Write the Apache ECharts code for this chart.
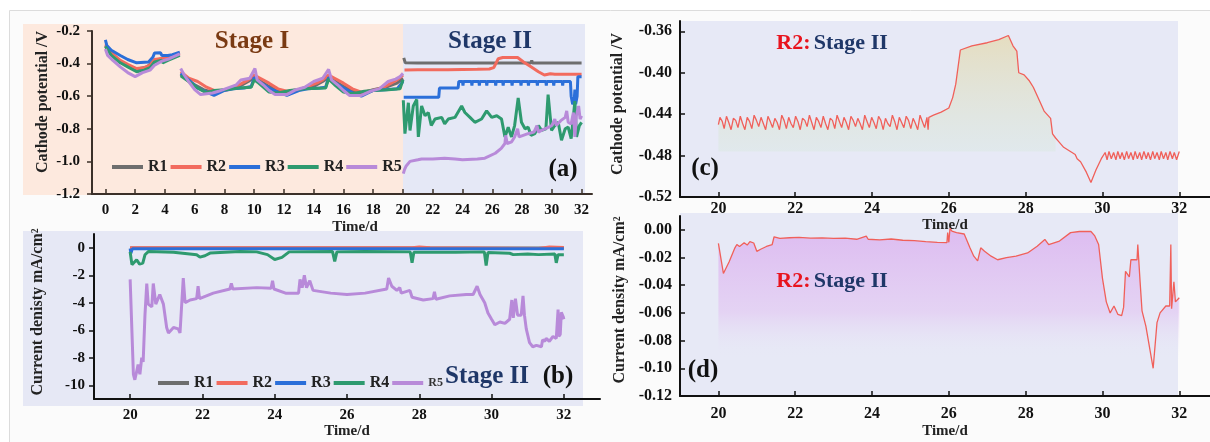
<!DOCTYPE html>
<html>
<head>
<meta charset="utf-8">
<script src="https://cdn.jsdelivr.net/npm/echarts@6/dist/echarts.min.js"></script>
<style>
html,body{margin:0;padding:0;background:#fff;}
#chart{width:1210px;height:442px;}
</style>
</head>
<body>
<div id="chart"></div>
<script>
var FONT = 'Liberation Serif';
var names = ['R1', 'R2', 'R3', 'R4', 'R5'];
var colors = ['#6e6e6e', '#f26b5e', '#2b6fd9', '#2e9a6f', '#b88ad9'];

// tick labels
var dayTicksA = [0, 2, 4, 6, 8, 10, 12, 14, 16, 18, 20, 22, 24, 26, 28, 30, 32];
var dayTicksB = [20, 22, 24, 26, 28, 30, 32];
var potTicksA = [-1.2, -1.0, -0.8, -0.6, -0.4, -0.2];
var curTicksB = [-10, -8, -6, -4, -2, 0];
var potTicksC = [-0.52, -0.48, -0.44, -0.40, -0.36];
var curTicksD = [-0.12, -0.10, -0.08, -0.06, -0.04, -0.02, 0];

// (a) cathode potential, stage I + stage II   [day, V]
var aR1 = [[0,-0.29],[0.4,-0.34],[1,-0.39],[1.6,-0.42],[2.1,-0.435],[2.8,-0.42],[3.3,-0.38],[4,-0.365],[5,-0.34],[5.04,null],
  [5.06,-0.465],[5.5,-0.5],[6,-0.53],[6.6,-0.56],[7.2,-0.575],[8,-0.56],[9,-0.54],[9.6,-0.51],[10,-0.485],[10.3,-0.5],[11,-0.54],[11.6,-0.57],[12.2,-0.58],[13,-0.56],[14,-0.54],[14.6,-0.51],[15,-0.485],[15.3,-0.5],[16,-0.54],[16.6,-0.57],[17.2,-0.58],[18,-0.56],[19,-0.54],[19.6,-0.52],[20,-0.49],[20.02,null],
  [20.05,-0.365],[20.15,-0.395],[21,-0.397],[21.05,-0.385],[21.1,-0.397],[22,-0.396],[22.05,-0.386],[22.1,-0.396],[23,-0.397],[23.05,-0.385],[23.1,-0.397],[24,-0.396],[24.05,-0.386],[24.1,-0.396],[25,-0.397],[25.05,-0.385],[25.1,-0.397],[26,-0.396],[27,-0.397],[27.05,-0.386],[27.1,-0.397],[28.6,-0.396],[28.65,-0.38],[28.7,-0.396],[29.6,-0.397],[29.65,-0.386],[29.7,-0.397],[30.6,-0.396],[30.65,-0.385],[30.7,-0.396],[31.6,-0.397],[31.65,-0.387],[31.7,-0.397],[32,-0.397]];
var aR2 = [[0,-0.28],[0.5,-0.34],[1,-0.38],[1.5,-0.405],[2.1,-0.43],[2.6,-0.425],[3,-0.41],[3.3,-0.375],[4,-0.365],[4.6,-0.35],[5,-0.335],[5.04,null],
  [5.06,-0.45],[5.6,-0.49],[6.2,-0.51],[6.8,-0.545],[7.3,-0.565],[8,-0.565],[8.6,-0.55],[9.2,-0.52],[9.6,-0.5],[10,-0.47],[10.4,-0.49],[11,-0.52],[11.6,-0.555],[12.2,-0.57],[13,-0.56],[13.6,-0.54],[14.2,-0.52],[14.6,-0.5],[15,-0.47],[15.4,-0.49],[16,-0.52],[16.6,-0.555],[17.2,-0.575],[18,-0.565],[18.6,-0.55],[19.2,-0.52],[19.6,-0.5],[20,-0.47],[20.02,null],
  [20.1,-0.44],[21,-0.438],[22,-0.437],[23,-0.437],[24,-0.436],[25,-0.435],[25.8,-0.433],[26.1,-0.425],[26.4,-0.37],[26.7,-0.363],[27.7,-0.363],[28.1,-0.39],[28.6,-0.42],[29.1,-0.45],[29.5,-0.47],[29.9,-0.462],[30.2,-0.465],[31,-0.465],[32,-0.465]];
var aR3 = [[0,-0.255],[0.1,-0.29],[0.4,-0.318],[1,-0.35],[1.5,-0.375],[2.1,-0.395],[2.9,-0.39],[3.2,-0.36],[3.3,-0.335],[3.7,-0.333],[3.8,-0.35],[4.2,-0.35],[4.5,-0.345],[5,-0.33],[5.04,null],
  [5.06,-0.46],[5.6,-0.5],[6.2,-0.55],[6.8,-0.575],[7.3,-0.595],[8,-0.565],[8.6,-0.555],[9.3,-0.55],[9.8,-0.54],[10,-0.485],[10.3,-0.51],[11,-0.55],[11.6,-0.575],[12.2,-0.595],[13,-0.565],[13.6,-0.555],[14.4,-0.55],[14.8,-0.545],[15,-0.485],[15.3,-0.51],[16,-0.55],[16.6,-0.58],[17.2,-0.6],[18,-0.565],[18.8,-0.56],[19.6,-0.555],[20,-0.51],[20.02,null],
  [20.05,-0.607],[22.4,-0.607],[22.45,-0.55],[23.7,-0.55],[23.75,-0.51],[24.0,-0.51],[24.03,-0.535],[24.06,-0.51],[24.6,-0.51],[24.63,-0.535],[24.66,-0.51],[25.1,-0.51],[25.13,-0.535],[25.16,-0.51],[25.6,-0.51],[25.63,-0.535],[25.66,-0.51],[26.2,-0.51],[26.23,-0.535],[26.26,-0.51],[26.7,-0.51],[26.73,-0.535],[26.76,-0.51],[27.3,-0.51],[27.33,-0.535],[27.36,-0.51],[27.9,-0.51],[27.93,-0.535],[27.96,-0.51],[28.4,-0.51],[28.43,-0.535],[28.46,-0.51],[29.0,-0.51],[29.03,-0.535],[29.06,-0.51],[29.6,-0.51],[29.63,-0.535],[29.66,-0.51],[30.1,-0.51],[30.13,-0.535],[30.16,-0.51],[30.7,-0.51],[30.73,-0.535],[30.76,-0.51],[31.25,-0.51],[31.3,-0.6],[31.4,-0.65],[31.5,-0.63],[31.55,-0.56],[31.6,-0.65],[31.7,-0.6],[31.75,-0.48],[32,-0.48]];
var aR4 = [[0,-0.295],[0.4,-0.35],[1,-0.395],[1.5,-0.42],[2.1,-0.45],[2.6,-0.44],[3,-0.425],[3.3,-0.39],[3.8,-0.38],[3.85,-0.395],[4.2,-0.38],[5,-0.35],[5.04,null],
  [5.06,-0.475],[5.6,-0.51],[6.2,-0.55],[6.8,-0.58],[7.3,-0.565],[8,-0.56],[9,-0.55],[9.8,-0.545],[10,-0.5],[10.3,-0.52],[11,-0.575],[11.6,-0.58],[12.4,-0.565],[13.4,-0.555],[14.8,-0.55],[15,-0.495],[15.4,-0.53],[16,-0.575],[16.6,-0.585],[17.4,-0.57],[18,-0.565],[19,-0.56],[19.8,-0.555],[20,-0.5],[20.01,null],
  [20.02,-0.625],[20.13,-0.83],[20.36,-0.64],[20.47,-0.81],[20.69,-0.66],[20.92,-0.62],[21.03,-0.85],[21.25,-0.66],[21.48,-0.72],[21.7,-0.7],[21.9,-0.78],[22.15,-0.74],[22.6,-0.73],[22.8,-0.77],[23.04,-0.74],[23.49,-0.73],[23.94,-0.66],[24.16,-0.7],[24.5,-0.73],[24.83,-0.76],[25.28,-0.74],[25.62,-0.69],[25.96,-0.73],[26.3,-0.72],[26.62,-0.74],[26.85,-0.85],[27.07,-0.79],[27.29,-0.85],[27.5,-0.78],[27.74,-0.61],[27.96,-0.76],[28.2,-0.8],[28.41,-0.79],[28.6,-0.84],[28.86,-0.83],[29.1,-0.78],[29.31,-0.81],[29.6,-0.8],[29.75,-0.59],[29.98,-0.81],[30.2,-0.78],[30.43,-0.76],[30.65,-0.87],[30.9,-0.8],[31.1,-0.79],[31.3,-0.86],[31.55,-0.63],[31.66,-0.85],[31.85,-0.78],[32,-0.76]];
var aR5 = [[0,-0.31],[0.15,-0.35],[0.5,-0.38],[1,-0.42],[1.5,-0.455],[2,-0.48],[2.5,-0.455],[3,-0.44],[3.3,-0.41],[3.8,-0.385],[4.3,-0.37],[5,-0.34],[5.04,null],
  [5.06,-0.43],[5.3,-0.47],[5.6,-0.51],[6,-0.56],[6.4,-0.59],[7.2,-0.58],[7.6,-0.57],[8.2,-0.55],[8.8,-0.53],[9.1,-0.5],[9.7,-0.49],[10.05,-0.43],[10.2,-0.5],[10.6,-0.53],[11,-0.565],[11.4,-0.59],[12.2,-0.59],[12.8,-0.56],[13.4,-0.545],[14,-0.51],[14.6,-0.49],[15,-0.435],[15.2,-0.5],[15.6,-0.53],[16,-0.565],[16.4,-0.595],[17.2,-0.595],[17.8,-0.57],[18.4,-0.555],[19,-0.51],[19.5,-0.495],[19.8,-0.48],[20,-0.46],[20.01,null],
  [20.02,-1.075],[20.1,-1.05],[20.2,-1.03],[20.47,-1.0],[21,-0.99],[21.25,-0.985],[22,-0.985],[22.8,-0.98],[23.5,-0.985],[24,-0.99],[25,-0.985],[25.5,-0.98],[26.2,-0.95],[26.6,-0.92],[26.85,-0.89],[26.9,-0.84],[27,-0.89],[27.3,-0.88],[27.5,-0.85],[27.7,-0.8],[27.8,-0.85],[28.4,-0.83],[28.8,-0.82],[29.0,-0.78],[29.1,-0.82],[29.3,-0.81],[29.8,-0.79],[30,-0.78],[30.2,-0.74],[30.3,-0.78],[30.6,-0.75],[30.9,-0.73],[31.0,-0.69],[31.1,-0.76],[31.3,-0.77],[31.45,-0.7],[31.55,-0.85],[31.65,-0.72],[31.8,-0.66],[31.9,-0.74],[32,-0.72]];

// (b) current density, stage II   [day, mA/cm2]
var bR1 = [[20,-0.02],[32,-0.02]];
var bR2 = [[20,0],[27.8,0],[28,0.05],[28.3,0],[31.3,-0.05],[31.6,0.05],[32,0.02]];
var bR3 = [[20,-0.05],[20.02,-0.4],[20.06,-0.08],[32,-0.08]];
var bR4 = [[20,-0.3],[20.05,-1.23],[20.09,-1.36],[20.18,-0.87],[20.26,-1.19],[20.35,-1.12],[20.41,-0.51],[20.51,-0.27],[21.2,-0.32],[21.84,-0.51],[21.93,-0.68],[22.07,-0.58],[22.21,-0.39],[23.04,-0.27],[23.5,-0.3],[23.8,-0.5],[24.0,-0.85],[24.2,-0.7],[24.4,-0.3],[25.6,-0.28],[25.66,-1.0],[25.72,-0.3],[26.5,-0.27],[27.75,-0.3],[27.8,-1.1],[27.85,-0.32],[29.0,-0.33],[29.8,-0.3],[29.85,-1.3],[29.9,-0.35],[30.5,-0.4],[30.6,-0.5],[31.0,-0.45],[31.3,-0.5],[31.75,-0.45],[31.79,-1.1],[31.84,-0.5],[32,-0.5]];
var bR5 = [[20,-2.3],[20.09,-9.2],[20.13,-9.6],[20.18,-9.0],[20.22,-8.5],[20.27,-9.2],[20.32,-8.0],[20.36,-8.3],[20.41,-4.9],[20.46,-2.6],[20.5,-4.1],[20.6,-4.3],[20.64,-2.6],[20.71,-4.1],[20.82,-3.4],[20.92,-4.1],[21.01,-5.8],[21.06,-6.2],[21.2,-5.8],[21.33,-5.9],[21.38,-6.2],[21.47,-2.2],[21.52,-4.0],[21.66,-3.8],[21.84,-3.7],[21.88,-2.8],[21.92,-3.7],[22.3,-3.3],[22.76,-3.0],[22.8,-2.6],[22.84,-3.0],[23.5,-2.9],[23.9,-2.95],[23.94,-2.4],[23.98,-3.0],[24.3,-3.3],[24.66,-3.3],[24.7,-2.3],[24.76,-2.9],[24.82,-2.0],[24.88,-2.9],[24.97,-2.4],[25.06,-3.1],[25.55,-3.3],[26.0,-3.4],[26.5,-3.3],[27.1,-3.0],[27.15,-2.2],[27.24,-2.8],[27.38,-3.1],[27.46,-2.9],[27.5,-3.3],[27.74,-3.1],[27.8,-3.6],[28.11,-3.8],[28.38,-3.7],[28.42,-3.2],[28.46,-3.75],[28.84,-3.5],[29.3,-3.4],[29.49,-3.4],[29.6,-2.8],[29.68,-3.4],[29.81,-4.0],[29.9,-4.75],[30.0,-5.2],[30.09,-5.6],[30.23,-5.4],[30.37,-5.5],[30.5,-5.2],[30.56,-3.8],[30.6,-5.1],[30.66,-3.7],[30.72,-4.9],[30.82,-4.9],[30.87,-3.5],[30.91,-4.9],[30.96,-5.9],[31.05,-6.9],[31.14,-7.2],[31.24,-7.1],[31.38,-7.2],[31.41,-6.7],[31.47,-6.8],[31.51,-6.6],[31.6,-6.8],[31.7,-6.45],[31.79,-6.6],[31.84,-4.5],[31.86,-6.45],[31.9,-6.3],[31.93,-4.7],[31.98,-5.0],[32,-5.2]];

// (c) R2 cathode potential   [day, V]
var cR2Early = [[20.00,-0.450],[20.04,-0.443],[20.10,-0.447],[20.15,-0.454],[20.21,-0.442],[20.27,-0.448],[20.33,-0.455],[20.39,-0.444],[20.45,-0.446],[20.51,-0.453],[20.57,-0.442],[20.63,-0.449],[20.69,-0.455],[20.75,-0.443],[20.81,-0.447],[20.87,-0.454],[20.93,-0.441],[20.99,-0.446],[21.05,-0.452],[21.11,-0.443],[21.17,-0.449],[21.23,-0.455],[21.29,-0.442],[21.35,-0.447],[21.41,-0.453],[21.47,-0.444],[21.53,-0.448],[21.59,-0.455],[21.65,-0.441],[21.71,-0.446],[21.77,-0.454],[21.83,-0.443],[21.89,-0.449],[21.95,-0.453],[22.01,-0.442],[22.07,-0.447],[22.13,-0.455],[22.19,-0.444],[22.25,-0.446],[22.31,-0.452],[22.37,-0.441],[22.43,-0.448],[22.49,-0.455],[22.55,-0.443],[22.61,-0.447],[22.67,-0.453],[22.73,-0.442],[22.79,-0.449],[22.85,-0.455],[22.91,-0.444],[22.97,-0.446],[23.03,-0.454],[23.09,-0.441],[23.15,-0.447],[23.21,-0.453],[23.27,-0.443],[23.33,-0.448],[23.39,-0.455],[23.45,-0.442],[23.51,-0.446],[23.57,-0.452],[23.63,-0.444],[23.69,-0.449],[23.75,-0.455],[23.81,-0.441],[23.87,-0.447],[23.93,-0.453],[23.99,-0.443],[24.05,-0.448],[24.11,-0.454],[24.17,-0.442],[24.23,-0.446],[24.29,-0.455],[24.35,-0.444],[24.41,-0.449],[24.47,-0.452],[24.53,-0.441],[24.59,-0.447],[24.65,-0.455],[24.71,-0.443],[24.77,-0.448],[24.83,-0.453],[24.89,-0.442],[24.95,-0.446],[25.01,-0.454],[25.07,-0.444],[25.13,-0.449],[25.19,-0.455],[25.25,-0.441],[25.31,-0.447],[25.37,-0.453],[25.43,-0.443],[25.46,-0.455]];
var cR2Rise = [[25.48,-0.443],[25.6,-0.441],[25.8,-0.438],[26.0,-0.434],[26.1,-0.424],[26.18,-0.411],[26.3,-0.378],[26.6,-0.374],[27.0,-0.371],[27.3,-0.368],[27.55,-0.364],[27.67,-0.374],[27.77,-0.379],[27.82,-0.4],[27.96,-0.402],[28.1,-0.408],[28.2,-0.414],[28.36,-0.427],[28.48,-0.437],[28.65,-0.444],[28.7,-0.459],[28.78,-0.463]];
var cR2Fall = [[28.85,-0.466],[28.99,-0.472],[29.29,-0.479],[29.34,-0.483],[29.43,-0.486],[29.58,-0.496],[29.7,-0.506],[29.83,-0.494],[29.97,-0.483],[30.07,-0.477]];
var cR2Late = [[30.12,-0.484],[30.17,-0.476],[30.23,-0.483],[30.29,-0.477],[30.35,-0.484],[30.40,-0.476],[30.46,-0.483],[30.51,-0.477],[30.57,-0.484],[30.63,-0.476],[30.68,-0.483],[30.74,-0.477],[30.80,-0.484],[30.85,-0.476],[30.91,-0.483],[30.97,-0.477],[31.02,-0.484],[31.08,-0.476],[31.14,-0.483],[31.19,-0.477],[31.25,-0.484],[31.31,-0.476],[31.36,-0.483],[31.42,-0.477],[31.48,-0.484],[31.53,-0.476],[31.59,-0.483],[31.65,-0.477],[31.70,-0.484],[31.76,-0.476],[31.82,-0.483],[31.87,-0.477],[31.93,-0.484],[32.00,-0.476]];

// (d) R2 current density   [day, mA/cm2]
var dR2 = [[20,-0.0098],[20.13,-0.0315],[20.28,-0.023],[20.43,-0.013],[20.48,-0.0106],[20.55,-0.012],[20.67,-0.0093],[20.75,-0.011],[20.82,-0.0085],[20.92,-0.0095],[21.0,-0.0155],[21.1,-0.014],[21.25,-0.012],[21.4,-0.0106],[21.45,-0.005],[21.6,-0.0062],[21.85,-0.0057],[22.1,-0.0055],[22.4,-0.006],[22.7,-0.0058],[23.0,-0.0062],[23.3,-0.006],[23.6,-0.0068],[23.85,-0.0045],[23.9,-0.0068],[24.2,-0.0072],[24.5,-0.0066],[24.8,-0.0075],[25.1,-0.0078],[25.4,-0.0085],[25.7,-0.009],[25.95,-0.0093],[25.97,-0.002],[26.0,-0.009],[26.03,0.001],[26.08,-0.001],[26.2,-0.002],[26.4,-0.003],[26.55,-0.013],[26.65,-0.019],[26.75,-0.0224],[26.83,-0.013],[26.93,-0.0155],[27.1,-0.019],[27.27,-0.0216],[27.5,-0.02],[27.75,-0.019],[28.05,-0.0167],[28.3,-0.0118],[28.5,-0.0069],[28.6,-0.0106],[28.88,-0.0081],[29.17,-0.002],[29.4,-0.0012],[29.7,-0.0012],[29.8,-0.0044],[29.9,-0.0106],[30.0,-0.035],[30.1,-0.052],[30.2,-0.06],[30.3,-0.055],[30.4,-0.061],[30.5,-0.062],[30.55,-0.056],[30.6,-0.03],[30.7,-0.034],[30.74,-0.0216],[30.9,-0.0216],[30.92,-0.0106],[30.98,-0.0376],[31.03,-0.0585],[31.13,-0.0696],[31.32,-0.1],[31.37,-0.099],[31.42,-0.067],[31.5,-0.06],[31.65,-0.055],[31.75,-0.055],[31.78,-0.0106],[31.8,-0.057],[31.86,-0.0376],[31.9,-0.052],[32,-0.049]];

var labelStyle = {fontFamily: FONT, fontWeight: 'bold', fontSize: 15, color: '#111'};
var nameStyle = {fontFamily: FONT, fontWeight: 'bold', fontSize: 15, color: '#222'};

function xAxisOf(grid, min, max, ticks, gap, lineColor, size, margin, pad) {
	return {
		gridIndex: grid, type: 'value', min: min, max: max,
		axisLine: {show: true, onZero: false, lineStyle: {color: lineColor, width: 2}},
		axisTick: {show: true, inside: true, length: 5, customValues: ticks, lineStyle: {color: lineColor, width: 1.5}},
		axisLabel: Object.assign({customValues: ticks, margin: margin}, labelStyle, {fontSize: size}),
		splitLine: {show: false},
		name: 'Time/d', nameLocation: 'middle', nameGap: gap,
		nameTextStyle: Object.assign({}, nameStyle, {padding: pad || 0})
	};
}
function yAxisOf(grid, min, max, ticks, digits, inside, lineColor, size, margin) {
	return {
		gridIndex: grid, type: 'value', min: min, max: max,
		axisLine: {show: true, onZero: false, lineStyle: {color: lineColor, width: 2}},
		axisTick: {show: true, inside: inside, length: 5, customValues: ticks, lineStyle: {color: lineColor, width: 1.5}},
		axisLabel: Object.assign({customValues: ticks, margin: margin,
			formatter: function (v) { return digits < 0 ? String(v) : v.toFixed(digits); }}, labelStyle, {fontSize: size}),
		splitLine: {show: false}
	};
}
function lineSeries(name, idx, color, data, width) {
	return {
		name: name, type: 'line', xAxisIndex: idx, yAxisIndex: idx, data: data,
		showSymbol: false, symbol: 'none', connectNulls: false,
		lineStyle: {color: color, width: width}, itemStyle: {color: color},
		emphasis: {disabled: true}, animation: false
	};
}

var aData = [aR1, aR2, aR3, aR4, aR5];
var bData = [bR1, bR2, bR3, bR4, bR5];
var series = [];
names.forEach(function (n, i) { series.push(lineSeries(n, 0, colors[i], aData[i], 3)); });
names.forEach(function (n, i) { series.push(lineSeries(n, 1, colors[i], bData[i], 3)); });

// (c): shaded part only down to the lower plateau level, then the full line on top
var cFill = lineSeries('R2 (c) fill', 2, '#f0605a', cR2Early.concat(cR2Rise), 0);
cFill.areaStyle = {origin: -0.476, color: new echarts.graphic.LinearGradient(0, 0, 0, 1, [
	{offset: 0, color: 'rgba(228,215,165,0.95)'},
	{offset: 1, color: 'rgba(214,232,220,0.55)'}
])};
series.push(cFill);
series.push(lineSeries('R2 (c)', 2, '#f0605a', cR2Early.concat(cR2Rise, cR2Fall, cR2Late), 1.3));

var dSeries = lineSeries('R2 (d)', 3, '#f0605a', dR2, 1.3);
dSeries.areaStyle = {origin: 'start', color: new echarts.graphic.LinearGradient(0, 0, 0, 1, [
	{offset: 0, color: 'rgba(216,165,238,0.95)'},
	{offset: 0.5, color: 'rgba(226,196,242,0.85)'},
	{offset: 0.78, color: 'rgba(231,233,246,0)'}
])};
series.push(dSeries);

function txt(x, y, text, size, color, extra) {
	return Object.assign({
		type: 'text', x: x, y: y, z: 100,
		style: {text: text, fontFamily: FONT, fontWeight: 'bold', fontSize: size, fill: color, align: 'center', verticalAlign: 'middle'}
	}, extra || {});
}
function rect(x, y, w, h, fill, z, stroke) {
	return {type: 'rect', z: z, silent: true, shape: {x: x, y: y, width: w, height: h},
		style: {fill: fill, stroke: stroke || null, lineWidth: 1}};
}
function r2Title(x, y) {
	return {type: 'text', x: x, y: y, z: 100, style: {
		text: '{r|R2:} {s|Stage II}', align: 'center', verticalAlign: 'middle',
		rich: {
			r: {fontFamily: FONT, fontWeight: 'bold', fontSize: 22, fill: '#e8141e', color: '#e8141e'},
			s: {fontFamily: FONT, fontWeight: 'bold', fontSize: 22, fill: '#1f3768', color: '#1f3768'}
		}}};
}

var legendBase = {
	orient: 'horizontal', icon: 'rect', itemWidth: 31, itemHeight: 4, itemGap: 3,
	selectedMode: false, textStyle: {fontFamily: FONT, fontWeight: 'bold', fontSize: 16, color: '#222'}
};

var chart = echarts.init(document.getElementById('chart'), null, {renderer: 'canvas'});
chart.setOption({
	backgroundColor: '#ffffff',
	animation: false,
	grid: [
		{left: 92, top: 31, right: 618, bottom: 248, outerBoundsMode: 'none'},
		{left: 94, top: 234, right: 610, bottom: 43, outerBoundsMode: 'none'},
		{left: 680, top: 21, right: 0, bottom: 245, outerBoundsMode: 'none'},
		{left: 680, top: 216, right: 0, bottom: 46, outerBoundsMode: 'none'}
	],
	xAxis: [
		xAxisOf(0, -0.9, 32.7, dayTicksA, 26, '#3b3029', 15, 9, [0, 0, 0, 26]),
		xAxisOf(1, 19, 33, dayTicksB, 25, '#111', 15, 9),
		xAxisOf(2, 19, 32.8, dayTicksB, 20, '#111', 16, 4),
		xAxisOf(3, 19, 32.8, dayTicksB, 28, '#111', 16, 10)
	],
	yAxis: [
		yAxisOf(0, -1.2, -0.2, potTicksA, 1, false, '#3b3029', 15, 12),
		yAxisOf(1, -11, 1, curTicksB, -1, false, '#111', 15, 9),
		yAxisOf(2, -0.52, -0.35, potTicksC, 2, true, '#111', 16, 8),
		yAxisOf(3, -0.12, 0.01, curTicksD, 2, true, '#111', 16, 8)
	],
	legend: [
		Object.assign({}, legendBase, {data: names, left: 107, top: 154}),
		Object.assign({}, legendBase, {data: names, left: 153, top: 370,
			formatter: function (n) { return n === 'R5' ? '{s|R5}' : n; },
			textStyle: Object.assign({}, legendBase.textStyle, {rich: {s: {fontFamily: FONT, fontWeight: 'bold', fontSize: 12, color: '#333'}}})})
	],
	graphic: {elements: [
		rect(9.5, 10.5, 1210, 440, '#fbfbfb', -20, '#dcdcdc'),
		rect(23, 24, 380, 171, '#fde9de', -10),
		rect(403, 24, 182, 171, '#e5e8f6', -10),
		rect(23, 231, 560, 175, '#e6e8f5', -10),
		rect(680, 21, 498, 176, '#e7e9f6', -10),
		rect(680, 213, 498, 183, '#e7e9f6', -10),
		txt(43, 102, 'Cathode potential /V', 16, '#222', {rotation: Math.PI / 2}),
		txt(38, 312, 'Current denisty mA/cm²', 16, '#222', {rotation: Math.PI / 2}),
		txt(618, 104, 'Cathode potential /V', 16, '#222', {rotation: Math.PI / 2}),
		txt(620, 300, 'Current density mA/cm²', 16, '#222', {rotation: Math.PI / 2}),
		txt(252, 42, 'Stage I', 25, '#7a3a12'),
		txt(490, 42, 'Stage II', 25, '#1f3768'),
		txt(563, 170, '(a)', 25, '#111'),
		txt(487, 377, 'Stage II', 25, '#1f3768'),
		txt(558, 377, '(b)', 25, '#111'),
		r2Title(832, 43),
		txt(705, 169, '(c)', 25, '#111'),
		r2Title(832, 281),
		txt(703, 371, '(d)', 25, '#111')
	]},
	series: series
});
</script>
</body>
</html>
